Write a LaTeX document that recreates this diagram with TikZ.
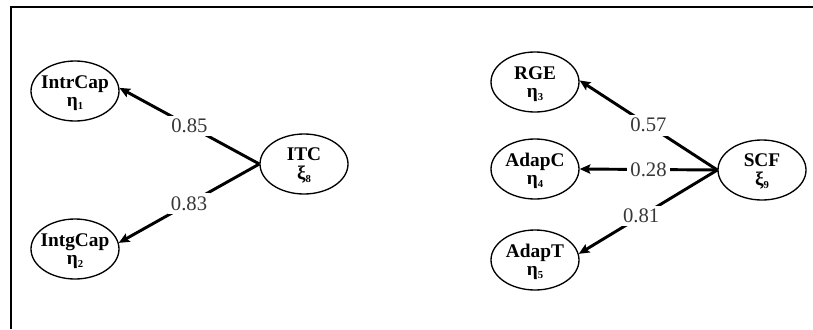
\documentclass[tikz,border=0pt]{standalone}
\usepackage{fontspec}
\setmainfont{Liberation Serif}
\usetikzlibrary{shapes.geometric,arrows.meta}
\definecolor{labgray}{RGB}{55,55,55}
\newcommand\lv[3]{\makebox[0pt]{\raisebox{-5.5pt}[0pt][0pt]{\fontsize{14.5}{13.5}\selectfont\bfseries\begin{tabular}{@{}c@{}}#1\\#2\raisebox{-0.35ex}{\fontsize{8}{8}\selectfont #3}\end{tabular}}}}
\tikzset{
  ell/.style={ellipse, draw, line width=1pt, minimum width=66pt, minimum height=45pt, inner sep=0pt},
  arr/.style={line width=2.2pt, -{Stealth[length=8pt,width=7pt,inset=1.5pt]}},
  lab/.style={fill=white, text=labgray, font=\fontsize{15.5}{15.5}\selectfont, inner sep=2.5pt},
  frame/.style={line width=1.5pt}
}
\begin{document}
\begin{tikzpicture}[x=0.75pt,y=-0.75pt]
\useasboundingbox (0,0) rectangle (813,329);
\coordinate (tl) at (11,7);
\coordinate (tr) at (813,7);
\coordinate (bl) at (11,329);
\draw[frame] (tr) -- (tl) -- (bl);

\node[ell] (IntrCap) at (75,91) {\lv{IntrCap}{η}{1}};
\node[ell] (IntgCap) at (75,249) {\lv{IntgCap}{η}{2}};
\node[ell] (ITC) at (304,164) {\lv{ITC}{ξ}{8}};
\node[ell] (RGE) at (535,82) {\lv{RGE}{η}{3}};
\node[ell] (AdapC) at (535,169) {\lv{AdapC}{η}{4}};
\node[ell] (AdapT) at (535,260) {\lv{AdapT}{η}{5}};
\node[ell] (SCF) at (762,170) {\lv{SCF}{ξ}{9}};

\draw[arr] (ITC.west) -- node[lab] (l1) {0.85} (IntrCap.4);
\draw[arr] (ITC.west) -- node[lab] (l2) {0.83} (IntgCap.8);
\draw[arr] (SCF.west) -- node[lab] (l3) {0.57} (RGE.2);
\draw[arr] (SCF.west) -- node[lab] (l4) {0.28} (AdapC.east);
\draw[arr] (SCF.west) -- node[lab,pos=0.55] (l5) {0.81} (AdapT.8);
\end{tikzpicture}
\end{document}
